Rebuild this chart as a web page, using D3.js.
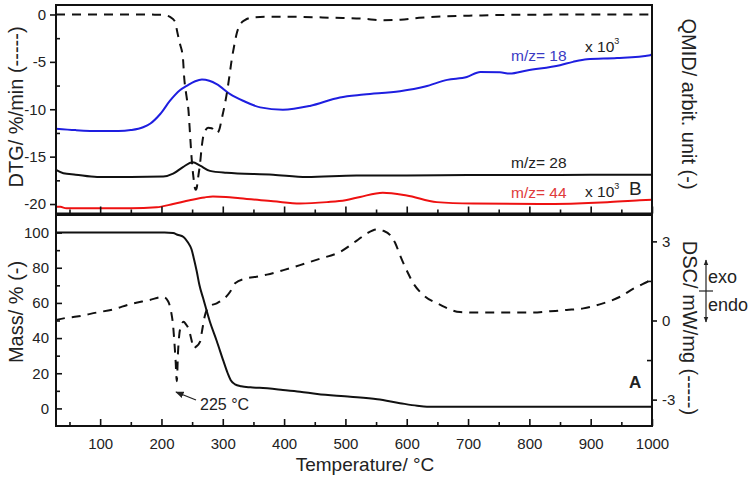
<!DOCTYPE html>
<html><head><meta charset="utf-8">
<script src="https://cdn.jsdelivr.net/npm/d3@7"></script>
<style>
body{margin:0;background:#fff}
text{font-family:"Liberation Sans",Arial,sans-serif;fill:#222}
</style>
</head><body>
<svg id="chart" width="755" height="481"></svg>
<script>
// ---------- data ----------
const temperatureTicks = [100,200,300,400,500,600,700,800,900,1000];
const temperatureMinor = [50,150,250,350,450,550,650,750,850,950];
const dtgTicks = [0,-5,-10,-15,-20];
const dtgMinor = [-2.5,-7.5,-12.5,-17.5];
const massTicks = [0,20,40,60,80,100];
const massMinor = [10,30,50,70,90];
const dscTicks = [-3,0,3];
const dscMinor = [-1.5,1.5];

// DTG, %/min (dashed, top panel)
const dtgCurve = [[28,0],[100,0],[150,0],[190,-0.02],[203,-0.05],[208,-0.1],[214,-0.25],[219,-0.5],[223,-0.9],[225,-1.6],[230,-3.05],[235,-4.6],[237,-6.6],[241,-8.7],[244,-10.1],[246.5,-12.5],[249,-15],[252,-17.1],[254.5,-18.3],[256,-18.5],[257.5,-18.3],[260,-17.1],[263,-15.7],[265.6,-14],[268,-12.9],[272,-12.2],[276,-11.95],[282,-12.0],[287,-12.4],[291,-12.5],[295,-12.0],[298,-11.1],[303.6,-9.4],[307.4,-8.0],[310.6,-6.6],[314.5,-4.8],[318.3,-3.4],[322.7,-2.0],[328,-1.1],[336,-0.6],[350,-0.3],[372,-0.24],[420,-0.25],[480,-0.35],[530,-0.45],[560,-0.6],[590,-0.55],[620,-0.35],[660,-0.2],[720,-0.1],[800,-0.02],[1000,0]];

// QMID traces, in plotted units of the top panel
const ms18 = [[28,-12.05],[60,-12.2],[100,-12.3],[130,-12.3],[150,-12.2],[170,-11.9],[182,-11.5],[198,-10.5],[214,-9.1],[230,-8.0],[242,-7.5],[255,-7.05],[266,-6.87],[278,-7.0],[290,-7.35],[312,-8.4],[333,-9.1],[361,-9.8],[398,-10.05],[442,-9.65],[491,-8.75],[530,-8.45],[589,-8.1],[630,-7.6],[666,-6.9],[698,-6.6],[720,-6.06],[752,-6.1],[768,-6.23],[796,-5.9],[850,-5.35],[871,-5.0],[894,-4.72],[943,-4.6],[997,-4.3],[1000,-4.15]];
const ms28 = [[28,-16.4],[40,-16.75],[60,-16.9],[95,-17.15],[150,-17.15],[203,-17.1],[219,-16.8],[235,-16.1],[251,-15.6],[263,-15.95],[279,-16.5],[306,-16.7],[382,-16.9],[437,-17.15],[518,-17.0],[600,-17.0],[700,-16.95],[800,-16.95],[900,-16.9],[1000,-16.9]];
const ms44 = [[28,-20.3],[35,-20.3],[45,-20.45],[100,-20.45],[150,-20.45],[192,-20.35],[219,-20.0],[246,-19.6],[270,-19.3],[284,-19.2],[305,-19.25],[328,-19.4],[382,-19.7],[426,-19.95],[470,-19.8],[500,-19.6],[524,-19.25],[561,-18.8],[600,-19.1],[649,-19.8],[708,-19.95],[817,-20.0],[927,-19.8],[980,-19.6],[1000,-19.55]];

// Mass, % (solid, bottom panel)
const massCurve = [[28,100],[150,100],[205,100],[219,99.7],[226,98.8],[236,97.5],[243,94.5],[249,90.5],[253,85],[257.5,78],[262,70],[268,62.6],[279,49.3],[290,38.5],[301,27],[308,20],[313,16],[320,13.7],[330,12.6],[345,12],[360,11.7],[398,10.5],[426,9.5],[454,8.2],[508,6.7],[552,5.2],[589,3],[617,1.5],[633,1.0],[700,1.0],[800,1.0],[900,1.0],[1000,1.0]];

// DSC, mW/mg (dashed, bottom panel)
const dscCurve = [[28,0.02],[45,0.1],[62,0.15],[94,0.3],[121,0.42],[149,0.62],[181,0.78],[203,0.9],[211,0.72],[216,0.3],[219,-0.2],[221,-0.8],[223,-1.5],[225,-2.3],[227,-1.2],[229,-0.55],[232,-0.2],[236,-0.05],[240,-0.15],[244,-0.3],[249,-0.74],[252,-1.05],[256,-1.0],[263,-0.8],[266,-0.42],[271,0.2],[279,0.55],[290,0.65],[312,1.09],[320,1.41],[339,1.6],[355,1.66],[372,1.74],[399,1.91],[426,2.1],[458,2.34],[491,2.6],[518,3.02],[535,3.3],[551,3.45],[562,3.4],[573,3.24],[581,2.95],[589,2.48],[602,1.8],[611,1.4],[627,0.97],[654,0.6],[687,0.32],[720,0.3],[774,0.3],[806,0.3],[834,0.35],[861,0.4],[888,0.46],[920,0.65],[948,0.9],[969,1.2],[991,1.45],[1000,1.55]];

// ---------- layout ----------
const svg = d3.select("#chart");
const L = 56, R = 652, T1 = 5, B1 = 213.5, T2 = 215, B2 = 426;

const x = d3.scaleLinear().domain([28,1000]).range([L,R]);
const yDTG = d3.scaleLinear().domain([-21,1]).range([B1,T1]);
const yMass = d3.scaleLinear().domain([-10,110]).range([B2,T2]);
const yDSC = d3.scaleLinear().domain([-4,4]).range([B2,T2]);

const defs = svg.append("defs");
defs.append("clipPath").attr("id","clipTop").append("rect").attr("x",L).attr("y",T1).attr("width",R-L).attr("height",B1-T1);
defs.append("clipPath").attr("id","clipBot").append("rect").attr("x",L).attr("y",T2).attr("width",R-L).attr("height",B2-T2);
defs.append("marker").attr("id","arrowhead").attr("viewBox","0 0 10 10").attr("refX",9).attr("refY",5)
  .attr("markerWidth",7).attr("markerHeight",7).attr("orient","auto")
  .append("path").attr("d","M0,1 L10,5 L0,9 Z").attr("fill","#222");
defs.append("marker").attr("id","arrowSmall").attr("viewBox","0 0 10 10").attr("refX",9).attr("refY",5)
  .attr("markerWidth",5).attr("markerHeight",6).attr("orient","auto")
  .append("path").attr("d","M0,1 L10,5 L0,9 Z").attr("fill","#222");

const line = (ys) => d3.line().x(d=>x(d[0])).y(d=>ys(d[1])).curve(d3.curveMonotoneX);

// ---------- top panel curves ----------
const gTop = svg.append("g").attr("clip-path","url(#clipTop)");
gTop.append("path").datum(ms44).attr("d",line(yDTG)).attr("fill","none").attr("stroke","#ee1111").attr("stroke-width",2);
gTop.append("path").datum(ms28).attr("d",line(yDTG)).attr("fill","none").attr("stroke","#111").attr("stroke-width",2);
gTop.append("path").datum(ms18).attr("d",line(yDTG)).attr("fill","none").attr("stroke","#1e1ee0").attr("stroke-width",2);
gTop.append("path").datum(dtgCurve).attr("d",line(yDTG)).attr("fill","none").attr("stroke","#111").attr("stroke-width",2).attr("stroke-dasharray","9,7");

// ---------- bottom panel curves ----------
const gBot = svg.append("g").attr("clip-path","url(#clipBot)");
gBot.append("path").datum(dscCurve).attr("d",line(yDSC)).attr("fill","none").attr("stroke","#111").attr("stroke-width",2).attr("stroke-dasharray","9,7");
gBot.append("path").datum(massCurve).attr("d",line(yMass)).attr("fill","none").attr("stroke","#111").attr("stroke-width",2);

// ---------- axes ----------
function styleAxis(g){
  g.select(".domain").remove();
  g.selectAll(".tick line").attr("stroke","#111").attr("stroke-width",1.6);
  g.selectAll(".tick text").attr("font-size",15).attr("fill","#222").attr("font-family","Liberation Sans, Arial, sans-serif");
}
const fmt = d => String(d);

// top panel x ticks (no labels)
svg.append("g").attr("transform",`translate(0,${B1})`)
  .call(d3.axisBottom(x).tickValues(temperatureTicks).tickSize(-7).tickFormat("")).call(styleAxis);
svg.append("g").attr("transform",`translate(0,${B1})`)
  .call(d3.axisBottom(x).tickValues(temperatureMinor).tickSize(-4).tickFormat("")).call(styleAxis);
// bottom panel x axis
svg.append("g").attr("transform",`translate(0,${B2})`)
  .call(d3.axisBottom(x).tickValues(temperatureTicks).tickSize(-7).tickPadding(12).tickFormat(fmt)).call(styleAxis);
svg.append("g").attr("transform",`translate(0,${B2})`)
  .call(d3.axisBottom(x).tickValues(temperatureMinor).tickSize(-4).tickFormat("")).call(styleAxis);
// DTG left axis
svg.append("g").attr("transform",`translate(${L},0)`)
  .call(d3.axisLeft(yDTG).tickValues(dtgTicks).tickSize(6).tickPadding(4).tickFormat(fmt)).call(styleAxis);
svg.append("g").attr("transform",`translate(${L},0)`)
  .call(d3.axisLeft(yDTG).tickValues(dtgMinor).tickSize(-4).tickFormat("")).call(styleAxis);
// Mass left axis
svg.append("g").attr("transform",`translate(${L},0)`)
  .call(d3.axisLeft(yMass).tickValues(massTicks).tickSize(-6).tickPadding(7).tickFormat(fmt)).call(styleAxis);
svg.append("g").attr("transform",`translate(${L},0)`)
  .call(d3.axisLeft(yMass).tickValues(massMinor).tickSize(-4).tickFormat("")).call(styleAxis);
// DSC right axis
svg.append("g").attr("transform",`translate(${R},0)`)
  .call(d3.axisRight(yDSC).tickValues(dscTicks).tickSize(5).tickPadding(5).tickFormat(fmt)).call(styleAxis);
svg.append("g").attr("transform",`translate(${R},0)`)
  .call(d3.axisRight(yDSC).tickValues(dscMinor).tickSize(-5).tickFormat("")).call(styleAxis);

// frames
svg.append("rect").attr("x",L).attr("y",T1).attr("width",R-L).attr("height",B1-T1).attr("fill","none").attr("stroke","#111").attr("stroke-width",2);
svg.append("rect").attr("x",L).attr("y",T2).attr("width",R-L).attr("height",B2-T2).attr("fill","none").attr("stroke","#111").attr("stroke-width",2);

// ---------- axis titles ----------
svg.append("text").attr("transform","translate(16,107) rotate(-90)").attr("text-anchor","middle").attr("dominant-baseline","central").attr("font-size",20).text("DTG/ %/min (-----)");
svg.append("text").attr("transform","translate(16,312) rotate(-90)").attr("text-anchor","middle").attr("dominant-baseline","central").attr("font-size",20).text("Mass/ % (-)");
svg.append("text").attr("transform","translate(689,104) rotate(90)").attr("text-anchor","middle").attr("dominant-baseline","central").attr("font-size",20).text("QMID/ arbit. unit (-)");
svg.append("text").attr("transform","translate(690,328) rotate(90)").attr("text-anchor","middle").attr("dominant-baseline","central").attr("font-size",20).text("DSC/ mW/mg (-----)");
svg.append("text").attr("x",365).attr("y",471).attr("text-anchor","middle").attr("font-size",19).text("Temperature/ °C");

// ---------- annotations ----------
svg.append("text").attr("x",511).attr("y",61).attr("font-size",15.5).style("fill","#3a3ac4").text("m/z= 18");
const sup1 = svg.append("text").attr("x",585).attr("y",52).attr("font-size",15.5);
sup1.append("tspan").text("x 10");
sup1.append("tspan").attr("font-size",9).attr("dy",-8).text("3");
svg.append("text").attr("x",511).attr("y",168).attr("font-size",15.5).text("m/z= 28");
svg.append("text").attr("x",511).attr("y",197.5).attr("font-size",15.5).style("fill","#e03a3a").text("m/z= 44");
const sup2 = svg.append("text").attr("x",585).attr("y",197).attr("font-size",15.5);
sup2.append("tspan").text("x 10");
sup2.append("tspan").attr("font-size",9).attr("dy",-8).text("3");
svg.append("text").attr("x",629).attr("y",195).attr("font-size",19).text("B");
svg.append("text").attr("x",629).attr("y",388).attr("font-size",17).attr("font-weight","bold").text("A");

// 225 °C arrow
svg.append("line").attr("x1",196).attr("y1",400).attr("x2",176).attr("y2",392)
  .attr("stroke","#222").attr("stroke-width",1.2).attr("marker-end","url(#arrowhead)");
svg.append("text").attr("x",200).attr("y",410).attr("font-size",16).text("225 °C");

// exo / endo indicator
svg.append("line").attr("x1",706).attr("y1",291).attr("x2",706).attr("y2",260).attr("stroke","#222").attr("stroke-width",1.2).attr("marker-end","url(#arrowSmall)");
svg.append("line").attr("x1",706).attr("y1",291).attr("x2",706).attr("y2",322).attr("stroke","#222").attr("stroke-width",1.2).attr("marker-end","url(#arrowSmall)");
svg.append("line").attr("x1",699).attr("y1",291).attr("x2",713).attr("y2",291).attr("stroke","#222").attr("stroke-width",1.2);
svg.append("text").attr("x",708).attr("y",283).attr("font-size",18).text("exo");
svg.append("text").attr("x",708).attr("y",311).attr("font-size",18).text("endo");
</script>
</body></html>
